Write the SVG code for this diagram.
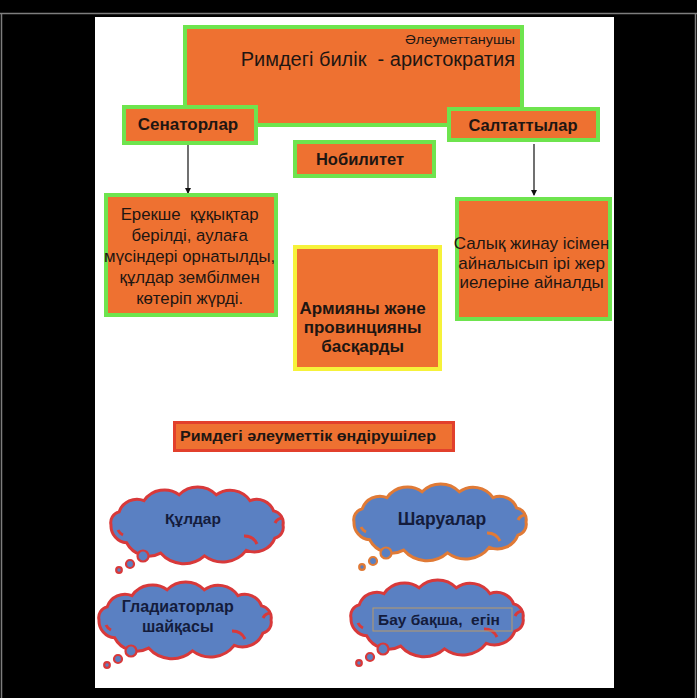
<svg xmlns="http://www.w3.org/2000/svg" width="697" height="698" viewBox="0 0 697 698">
<style>
.box{fill:#ee7131;stroke:#6ee44e;stroke-width:4}
.ybox{fill:#ee7131;stroke:#f6f23a;stroke-width:4}
.t{font-family:"Liberation Sans",Arial,sans-serif;fill:#1e1612;white-space:pre}
.b{font-weight:bold}
.ct{font-family:"Liberation Sans",Arial,sans-serif;font-weight:bold;fill:#141c3c;white-space:pre}
.conn{stroke:#111;stroke-width:1.2;fill:none}
.cf{fill:#5a80c2}
</style>
<defs>
<marker id="ah" markerWidth="6" markerHeight="6" refX="5" refY="3" orient="auto" markerUnits="userSpaceOnUse">
<path d="M0,0 L6,3 L0,6 z" fill="#111"/>
</marker>
<g id="cloud">
<path class="cf" d="M4,34 A11,11 0 0 1 12.1,20.9 A19,19 0 0 1 37,9.6 A25,25 0 0 1 72.1,3.7 A26,26 0 0 1 109.3,3.8 A24,24 0 0 1 143,9.6 A18,18 0 0 1 166.6,19.9 A12,12 0 0 1 176,34 A11,11 0 0 1 167.9,47.1 A22,22 0 0 1 139.3,59.4 A30,30 0 0 1 97.5,64.9 A31,31 0 0 1 53.6,62.1 A25,25 0 0 1 19.6,51.8 A17,17 0 0 1 4,34 z"/>
<path d="M137,45 A14,14 0 0 1 150,53 M168,32 A9,9 0 0 1 176,27 M16,44 A10,10 0 0 1 11,39" fill="none"/>
<circle class="cf" cx="36" cy="65" r="5.5" stroke-width="2.2"/>
<circle class="cf" cx="23" cy="73" r="4" stroke-width="2.2"/>
<circle class="cf" cx="12" cy="79" r="2.8" stroke-width="2.2"/>
</g>
</defs>
<rect x="0" y="0" width="697" height="698" fill="#000"/>
<path d="M0,13.5 H697 M1.5,13.5 V698 M695.5,13.5 V698" stroke="#7d7d7d" stroke-width="1.5" fill="none"/>
<rect x="95" y="17" width="519" height="671" fill="#fff"/>

<g id="connectors">
<line class="conn" x1="188" y1="145" x2="188" y2="193" marker-end="url(#ah)"/>
<line class="conn" x1="534" y1="144" x2="534" y2="195" marker-end="url(#ah)"/>
</g>

<g id="top">
<rect class="box" x="185" y="27" width="337" height="98"/>
<text class="t" x="515" y="44" font-size="13" text-anchor="end" textLength="110" lengthAdjust="spacingAndGlyphs">Әлеуметтанушы</text>
<text class="t" x="515" y="66" font-size="20" text-anchor="end">Римдегі билік  - аристократия</text>
</g>
<g id="senators">
<rect class="box" x="124" y="107" width="132" height="36"/>
<text class="t b" x="188" y="130" font-size="17" text-anchor="middle">Сенаторлар</text>
</g>
<g id="saltat">
<rect class="box" x="449" y="109" width="149" height="31"/>
<text class="t b" x="523" y="131" font-size="16.5" text-anchor="middle">Салтаттылар</text>
</g>
<g id="nobilitet">
<rect class="box" x="295" y="142" width="139" height="34"/>
<text class="t b" x="360" y="165" font-size="16.5" text-anchor="middle">Нобилитет</text>
</g>
<g id="senators-desc">
<rect class="box" x="106" y="195" width="170" height="120"/>
<text class="t" font-size="16.8" text-anchor="middle">
<tspan x="192" y="220">Ерекше  құқықтар</tspan>
<tspan x="192" y="241">берілді, аулаға</tspan>
<tspan x="192" y="262">мүсіндері орнатылды,</tspan>
<tspan x="192" y="283">құлдар зембілмен</tspan>
<tspan x="192" y="304">көтеріп жүрді.</tspan>
</text>
</g>
<g id="army">
<rect class="ybox" x="295" y="247" width="145" height="122"/>
<text class="t b" font-size="17" text-anchor="middle">
<tspan x="365" y="314">Армияны және</tspan>
<tspan x="365" y="333">провинцияны</tspan>
<tspan x="365" y="352">басқарды</tspan>
</text>
</g>
<g id="saltat-desc">
<rect class="box" x="457" y="199" width="153" height="120"/>
<text class="t" font-size="17" text-anchor="middle">
<tspan x="534" y="249">Салық жинау ісімен</tspan>
<tspan x="534" y="269">айналысып ірі жер</tspan>
<tspan x="534" y="288">иелеріне айналды</tspan>
</text>
</g>
<g id="producers">
<rect x="174.5" y="422.5" width="279" height="28" fill="#ee7131" stroke="#e2402c" stroke-width="3"/>
<text class="t b" x="180" y="441" font-size="15.5" textLength="256" lengthAdjust="spacingAndGlyphs">Римдегі әлеуметтік өндірушілер</text>
</g>
<g id="slaves">
<use href="#cloud" x="107" y="491" stroke="#d8393a" stroke-width="3"/>
<text class="ct" x="193" y="524" font-size="15.5" text-anchor="middle">Құлдар</text>
</g>
<g id="peasants">
<use href="#cloud" x="350" y="488" stroke="#e07a36" stroke-width="3"/>
<text class="ct" x="442" y="525" font-size="17.5" text-anchor="middle">Шаруалар</text>
</g>
<g id="gladiators">
<use href="#cloud" x="95" y="586" stroke="#d8393a" stroke-width="3"/>
<text class="ct" font-size="16" text-anchor="middle">
<tspan x="180" y="612">Гладиаторлар</tspan>
<tspan x="180" y="632">шайқасы</tspan>
</text>
</g>
<g id="gardens">
<use href="#cloud" x="347" y="584" stroke="#d8393a" stroke-width="3"/>
<rect x="373" y="608" width="139" height="23" fill="none" stroke="#b89a6a" stroke-width="1"/>
<text class="ct" x="378" y="625" font-size="15.5">Бау бақша,  егін</text>
</g>
</svg>
